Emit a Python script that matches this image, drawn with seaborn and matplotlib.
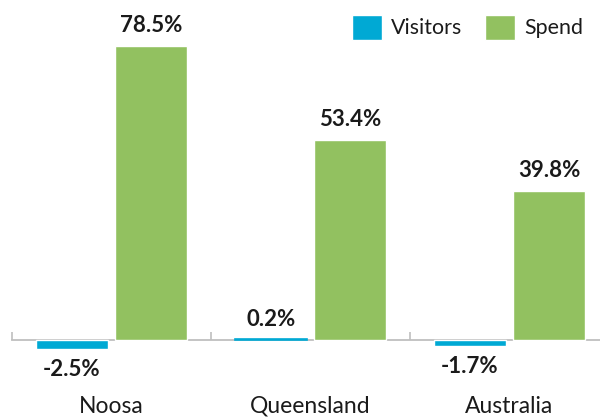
import numpy as np
import pandas as pd
import matplotlib
matplotlib.use("Agg")
import matplotlib.pyplot as plt
from matplotlib.ticker import FixedLocator
import seaborn as sns

regions = ["Noosa", "Queensland", "Australia"]
series = ["Visitors", "Spend"]
visitors = [-2.5, 0.2, -1.7]
spend = [78.5, 53.4, 39.8]
colors = ["#00A9D4", "#92C160"]

df = pd.DataFrame({
    "region": regions * 2,
    "series": ["Visitors"] * 3 + ["Spend"] * 3,
    "value": visitors + spend,
})

sns.set_theme(style="white")
plt.rcParams["font.family"] = ["Lato", "DejaVu Sans"]

fig = plt.figure(figsize=(6, 4.19), dpi=100)
ax = fig.add_axes([0.02, 0.0, 0.995, 1.0])

sns.barplot(data=df, x="region", y="value", hue="series", hue_order=series,
            palette=colors, width=0.8, gap=0.1, ax=ax, legend=True,
            saturation=1)

ax.set_ylim(-21.1, 90.8)
ax.set_xlim(-0.5, 2.5)

# bars over the axis line, thin visitors bar still visible
for cont, col in zip(ax.containers, colors):
    for p in cont:
        p.set_zorder(3)
        if abs(p.get_height()) < 1:
            p.set_edgecolor(col)
            p.set_linewidth(1.2)

for cont in ax.containers:
    ax.bar_label(cont, labels=[f"{v:.1f}%" for v in cont.datavalues],
                 padding=7, fontsize=16, fontweight="bold", color="#1a1a1a")

for s in ["top", "right", "left"]:
    ax.spines[s].set_visible(False)
ax.spines["bottom"].set_position(("data", 0))
ax.spines["bottom"].set_color("#BFBFBF")
ax.spines["bottom"].set_linewidth(1.3)

ax.set_yticks([])
ax.set_xlabel("")
ax.set_ylabel("")
ax.xaxis.set_minor_locator(FixedLocator([-0.5, 0.5, 1.5, 2.5]))
ax.tick_params(axis="x", which="major", length=0, pad=40, labelsize=16.5,
               labelcolor="#1a1a1a")
ax.tick_params(axis="x", which="minor", direction="in", length=6,
               width=1.2, color="#BFBFBF", bottom=True)

ax.get_legend().remove()
handles, labels = ax.get_legend_handles_labels()
fig.legend(handles, labels, loc="upper right", bbox_to_anchor=(0.997, 1.0),
           ncol=2, frameon=False, fontsize=15.4, handlelength=1.4,
           handleheight=1.4, handletextpad=0.42, columnspacing=1.1,
           labelcolor="#1a1a1a", borderaxespad=0.3)

fig.savefig("out.png", dpi=100)
